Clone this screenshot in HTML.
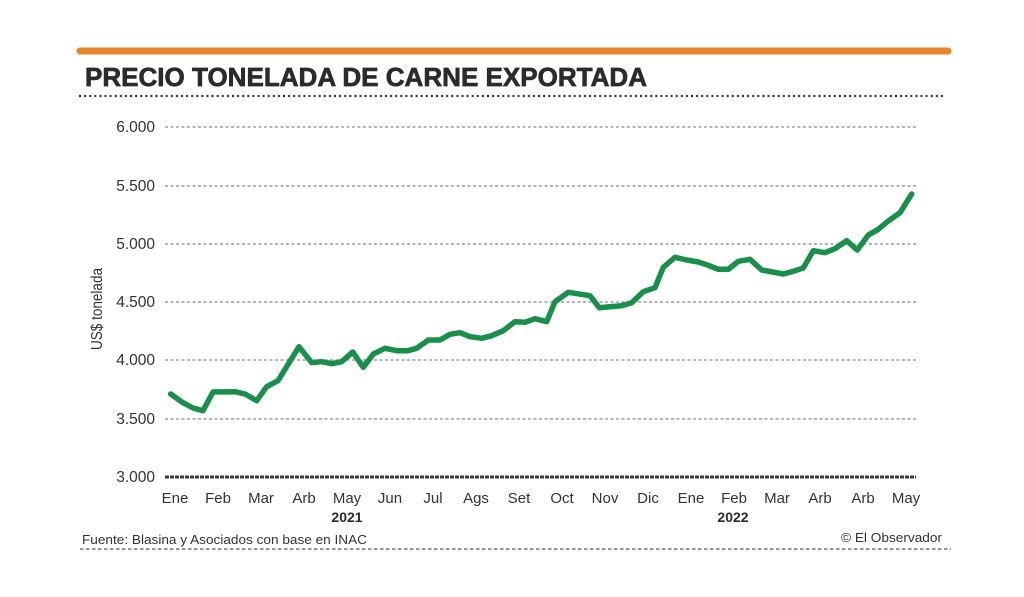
<!DOCTYPE html>
<html>
<head>
<meta charset="utf-8">
<style>
html,body{margin:0;padding:0;background:#fff;}
svg{display:block;}
text{font-family:"Liberation Sans","DejaVu Sans",sans-serif;}
</style>
</head>
<body>
<svg width="1024" height="597" viewBox="0 0 1024 597" xmlns="http://www.w3.org/2000/svg">
<rect width="1024" height="597" fill="#ffffff"/>
<!-- orange bar -->
<line x1="80" y1="51" x2="948" y2="51" stroke="#e8852b" stroke-width="7" stroke-linecap="round"/>
<!-- title -->
<text x="85" y="86" font-size="26" font-weight="bold" fill="#2b2b2b" stroke="#2b2b2b" stroke-width="0.7" textLength="562" lengthAdjust="spacingAndGlyphs">PRECIO TONELADA DE CARNE EXPORTADA</text>
<!-- dotted line under title -->
<line x1="79" y1="96" x2="946" y2="96" stroke="#333" stroke-width="2.2" stroke-dasharray="2 3.1"/>
<!-- grid -->
<g stroke="#8a8a8a" stroke-width="1.2" stroke-dasharray="3 2.5">
<line x1="165" y1="127" x2="916" y2="127"/>
<line x1="165" y1="186" x2="916" y2="186"/>
<line x1="165" y1="244" x2="916" y2="244"/>
<line x1="165" y1="302" x2="916" y2="302"/>
<line x1="165" y1="360" x2="916" y2="360"/>
<line x1="165" y1="419" x2="916" y2="419"/>
</g>
<line x1="165" y1="477" x2="916" y2="477" stroke="#3a3a3a" stroke-width="3" stroke-dasharray="4 1"/>
<!-- y tick labels -->
<g font-size="15.5" fill="#333" text-anchor="end">
<text x="155" y="132">6.000</text>
<text x="155" y="191">5.500</text>
<text x="155" y="249">5.000</text>
<text x="155" y="307">4.500</text>
<text x="155" y="365">4.000</text>
<text x="155" y="424">3.500</text>
<text x="155" y="482">3.000</text>
</g>
<!-- y title -->
<text transform="translate(102,309) rotate(-90)" font-size="16" fill="#333" text-anchor="middle" textLength="82" lengthAdjust="spacingAndGlyphs">US$ tonelada</text>
<!-- x labels -->
<g font-size="15" fill="#333" text-anchor="middle">
<text x="175" y="503">Ene</text>
<text x="218" y="503">Feb</text>
<text x="261" y="503">Mar</text>
<text x="304" y="503">Arb</text>
<text x="347" y="503">May</text>
<text x="390" y="503">Jun</text>
<text x="433" y="503">Jul</text>
<text x="476" y="503">Ags</text>
<text x="519" y="503">Set</text>
<text x="562" y="503">Oct</text>
<text x="605" y="503">Nov</text>
<text x="648" y="503">Dic</text>
<text x="691" y="503">Ene</text>
<text x="734" y="503">Feb</text>
<text x="777" y="503">Mar</text>
<text x="820" y="503">Arb</text>
<text x="863" y="503">Arb</text>
<text x="906" y="503">May</text>
</g>
<g font-size="14" font-weight="bold" fill="#2b2b2b" text-anchor="middle">
<text x="347" y="522">2021</text>
<text x="733" y="522">2022</text>
</g>
<!-- data line -->
<polyline fill="none" stroke="#1a8f4c" stroke-width="5.5" stroke-linejoin="round" stroke-linecap="round"
points="170.7,394 183,402.7 193,408 203,410.7 213,392 235,391.7 245,394 256.7,400.7 266.7,386.7 278,380.7 299,346.7 311.7,362.7 321.7,361.7 331.7,363.7 341.7,361.7 352.7,352 363.3,367.3 373.3,354 385,348.3 396.7,350.7 408,350.7 416.7,348.3 428.3,340 440,340 450,334.3 460,332.7 470,336.7 481.7,338.3 491.7,335.7 503.3,330.7 515,321.7 525,322.3 535,318.7 546.7,321.7 555,301.7 568.3,292.3 590,295.7 599.3,307.7 610,306.7 621.7,305.7 631.7,302.7 643.3,291.7 655,287.7 663.3,267.3 675,257.3 686.7,260 698.3,262 708.3,265.3 718.3,269.3 728.3,269.3 738.3,261.3 750,259.3 761.7,270 783.3,274 793.3,271.3 803.3,268 813.3,250.7 825,252.7 835,248.7 846.7,240.7 857.3,250 868.3,235 878.3,229.3 888.3,221 900,212.7 911.7,194"/>
<!-- footer -->
<text x="82" y="544" font-size="13" fill="#333" textLength="285" lengthAdjust="spacingAndGlyphs">Fuente: Blasina y Asociados con base en INAC</text>
<text x="942" y="542" font-size="13" fill="#333" text-anchor="end" textLength="101" lengthAdjust="spacingAndGlyphs">© El Observador</text>
<line x1="80" y1="549" x2="951" y2="549" stroke="#555" stroke-width="1.2" stroke-dasharray="3.5 2.5"/>
</svg>
</body>
</html>
